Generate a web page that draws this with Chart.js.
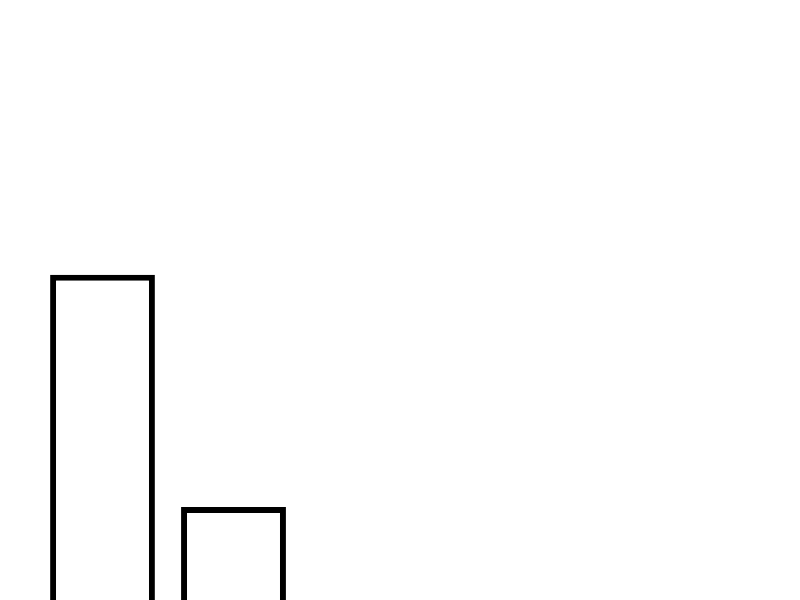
<!DOCTYPE html>
<html>
<head>
<meta charset="utf-8">
<script src="https://cdn.jsdelivr.net/npm/chart.js@4"></script>
<style>
html,body{margin:0;padding:0;background:#fff;}
#wrap{width:800px;height:600px;}
</style>
</head>
<body>
<div id="wrap"><canvas id="c"></canvas></div>
<script>
const categories = ["A", "B"];
const values = [54.2, 15.5];
const yMax = 100;

new Chart(document.getElementById('c'), {
  type: 'bar',
  data: {
    labels: categories,
    datasets: [{
      data: values,
      backgroundColor: '#ffffff',
      borderColor: '#000000',
      borderWidth: 6,
      borderSkipped: 'start',
      categoryPercentage: 1.0,
      barPercentage: 0.8
    }]
  },
  options: {
    responsive: true,
    maintainAspectRatio: false,
    animation: false,
    layout: { padding: { left: 37, right: 501, top: 0, bottom: 0 } },
    plugins: { legend: { display: false }, tooltip: { enabled: false } },
    scales: {
      x: { display: false },
      y: { display: false, min: 0, max: yMax }
    }
  }
});
</script>
</body>
</html>
